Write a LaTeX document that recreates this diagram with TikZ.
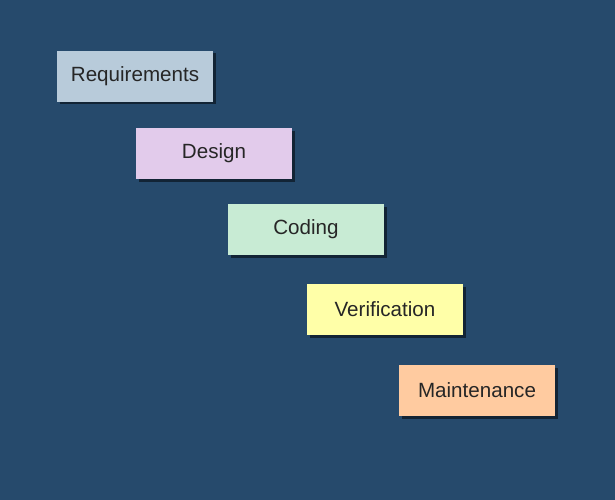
\documentclass[tikz,border=0pt]{standalone}
\usepackage{fontspec}
\setmainfont{Liberation Sans}
\usetikzlibrary{shadows}
\definecolor{bgblue}{RGB}{38,74,108}
\definecolor{reqcol}{RGB}{184,203,218}
\definecolor{descol}{RGB}{226,203,235}
\definecolor{codcol}{RGB}{200,235,212}
\definecolor{vercol}{RGB}{255,255,168}
\definecolor{maicol}{RGB}{255,203,160}
\begin{document}
\begin{tikzpicture}[x=1pt,y=-1pt,
    phase/.style={minimum width=156pt,minimum height=51pt,inner sep=0pt,
        text=black!85,font=\fontsize{20.6}{24}\selectfont,
        drop shadow={shadow xshift=2.5pt,shadow yshift=-2.5pt,opacity=0.5,fill=black}}]
\fill[bgblue] (0,0) rectangle (615,500);
\useasboundingbox (0,0) rectangle (615,500);

\node[phase,fill=reqcol] (req) at (135,76.5) {Requirements};
\node[phase,fill=descol] (des) at (214,153.5) {Design};
\node[phase,fill=codcol] (cod) at (306,229.5) {Coding};
\node[phase,fill=vercol] (ver) at (385,309.5) {Verification};
\node[phase,fill=maicol] (mai) at (477,390.5) {Maintenance};
\end{tikzpicture}
\end{document}
